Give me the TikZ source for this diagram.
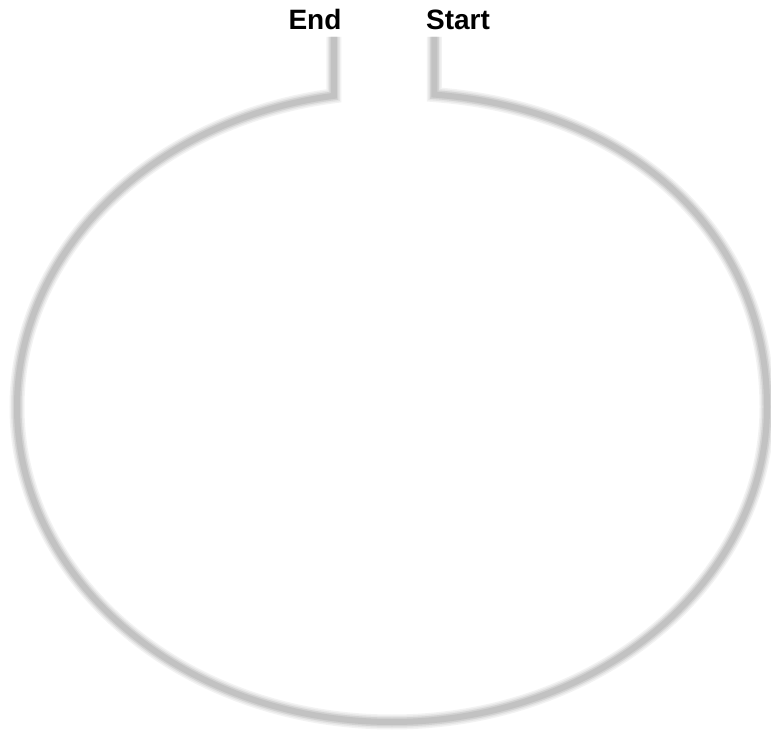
\documentclass[tikz,border=0pt]{standalone}
\usepackage{fontspec}
\setmainfont{Liberation Sans}
\usetikzlibrary{calc}

\begin{document}
\begin{tikzpicture}[x=1pt, y=1pt,
    loopline/.style={line width=#1, line join=miter, line cap=butt},
    tag/.style={font=\fontsize{28}{30}\selectfont\bfseries, inner sep=0pt, anchor=base}]
    \useasboundingbox (0,0) rectangle (771,734);

    % 1. CENTRE AND THE TWO ENDS OF THE LOOP
    \coordinate (loopcentre) at (392,327);
    \coordinate (loopright) at (767,327);
    \coordinate (startjoin) at (434.3,639.4);
    \coordinate (endjoin) at ($(loopcentre)+(98.9:375 and 315)$);
    \coordinate (starttop) at (startjoin |- 0,697);
    \coordinate (endtop) at (endjoin |- 0,697);

    % 2. LABELS
    \node[tag] (endlabel) at (315,704) {End};
    \node[tag] (startlabel) at (458,704) {Start};

    % 3. THE LOOP (soft grey stroke, wide and pale under narrow and darker)
    \foreach \w/\c in {15/gray!10, 12/gray!20, 9/gray!35, 6/gray!48} {
        \draw[loopline=\w pt, \c] (starttop) -- (startjoin)
            .. controls (632.6,624.0) and (767,500.3) .. (loopright)
            arc[start angle=0, end angle=-180, x radius=375, y radius=315]
            arc[start angle=180, end angle=98.9, x radius=375, y radius=315]
            -- (endtop);
    }
\end{tikzpicture}
\end{document}
